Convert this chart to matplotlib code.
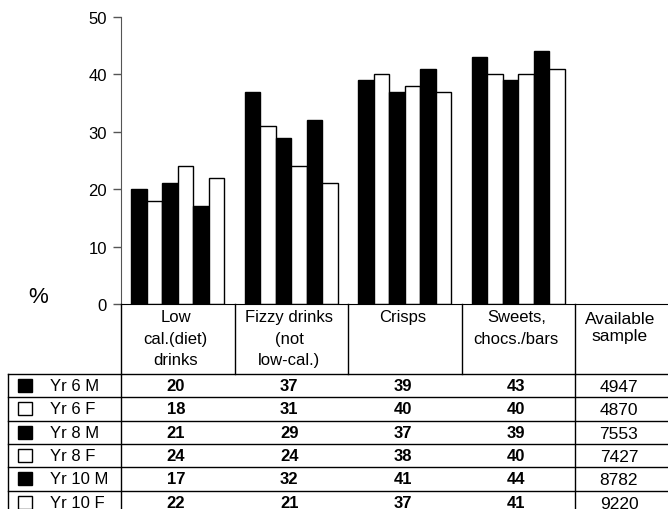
import numpy as np
import matplotlib.pyplot as plt
from matplotlib.patches import Rectangle

plt.rcParams["font.family"] = ["Liberation Sans", "DejaVu Sans"]

# ---- data ----
categories = ["Low\ncal.(diet)\ndrinks", "Fizzy drinks\n(not\nlow-cal.)",
              "Crisps", "Sweets,\nchocs./bars"]
groups = ["Yr 6 M", "Yr 6 F", "Yr 8 M", "Yr 8 F", "Yr 10 M", "Yr 10 F"]
group_fill = ["black", "white", "black", "white", "black", "white"]

low_cal = [20, 18, 21, 24, 17, 22]
fizzy = [37, 31, 29, 24, 32, 21]
crisps = [39, 40, 37, 38, 41, 37]
sweets = [43, 40, 39, 40, 44, 41]
sample = [4947, 4870, 7553, 7427, 8782, 9220]

values = np.array([low_cal, fizzy, crisps, sweets])  # (category, group)

# ---- layout (pixels, top-left origin) ----
W, H = 668, 510
X0 = 121           # y axis position
UNIT = 113.5       # width of one category column
Y_TOP, Y_ZERO = 18, 305
HEADER_BOTTOM = 375
ROW_H = 23.33
LEFT_EDGE = 8
FS = 12

fig = plt.figure(figsize=(W / 100, H / 100), dpi=100)

ax = fig.add_axes([X0 / W, (H - Y_ZERO) / H, (W - X0) / W, (Y_ZERO - Y_TOP) / H])
ax.set_xlim(0, (W - X0) / UNIT)
ax.set_ylim(0, 50)

n_groups = len(groups)
bar_w = 0.137
for g in range(n_groups):
    xs = np.arange(len(categories)) + 0.5 + (g - (n_groups - 1) / 2) * bar_w
    ax.bar(xs, values[:, g], width=bar_w, color=group_fill[g],
           edgecolor="black", linewidth=1.0, zorder=2)

ax.spines["top"].set_visible(False)
ax.spines["right"].set_visible(False)
ax.spines["left"].set_color("#555555")
ax.spines["bottom"].set_color("black")
ax.set_yticks(range(0, 51, 10))
ax.tick_params(axis="y", direction="out", length=6, width=1, color="#555555",
               labelsize=12, pad=4)
ax.set_xticks([])

# ---- table drawn on an overlay in pixel coordinates ----
tab = fig.add_axes([0, 0, 1, 1], facecolor="none")
tab.set_xlim(0, W)
tab.set_ylim(H, 0)
tab.axis("off")

col_edges = [X0 + k * UNIT for k in range(len(categories) + 1)]
line_kw = dict(color="black", linewidth=1.0)

# header verticals
for x in col_edges:
    tab.plot([x, x], [Y_ZERO, HEADER_BOTTOM], **line_kw)

# horizontal row lines
n_rows = len(groups)
for r in range(n_rows + 1):
    y = HEADER_BOTTOM + r * ROW_H
    tab.plot([LEFT_EDGE, W], [y, y], **line_kw)

# verticals through the data rows
for x in [LEFT_EDGE, X0, col_edges[-1]]:
    tab.plot([x, x], [HEADER_BOTTOM, H + 5], **line_kw)

# header labels
for i, cat in enumerate(categories):
    cx = X0 + (i + 0.5) * UNIT - 2
    tab.text(cx, 310, cat, ha="center", va="top", fontsize=FS, linespacing=1.55)
tab.text(620, 312, "Available\nsample", ha="center", va="top",
         fontsize=FS + 0.5, linespacing=1.2)

# data rows
for r, name in enumerate(groups):
    cy = HEADER_BOTTOM + (r + 0.5) * ROW_H
    tab.add_patch(Rectangle((18, cy - 6.5), 14, 13, facecolor=group_fill[r],
                            edgecolor="black", linewidth=1.0))
    tab.text(50, cy, name, ha="left", va="center", fontsize=FS)
    for i in range(len(categories)):
        cx = X0 + (i + 0.5) * UNIT - 2
        tab.text(cx, cy, str(values[i, r]), ha="center", va="center",
                 fontsize=FS, fontweight="bold")
    tab.text(619, cy + 1, str(sample[r]), ha="center", va="center",
             fontsize=FS + 0.5)

tab.text(38, 298, "%", ha="center", va="center", fontsize=16)

fig.savefig("out.png", dpi=100)
